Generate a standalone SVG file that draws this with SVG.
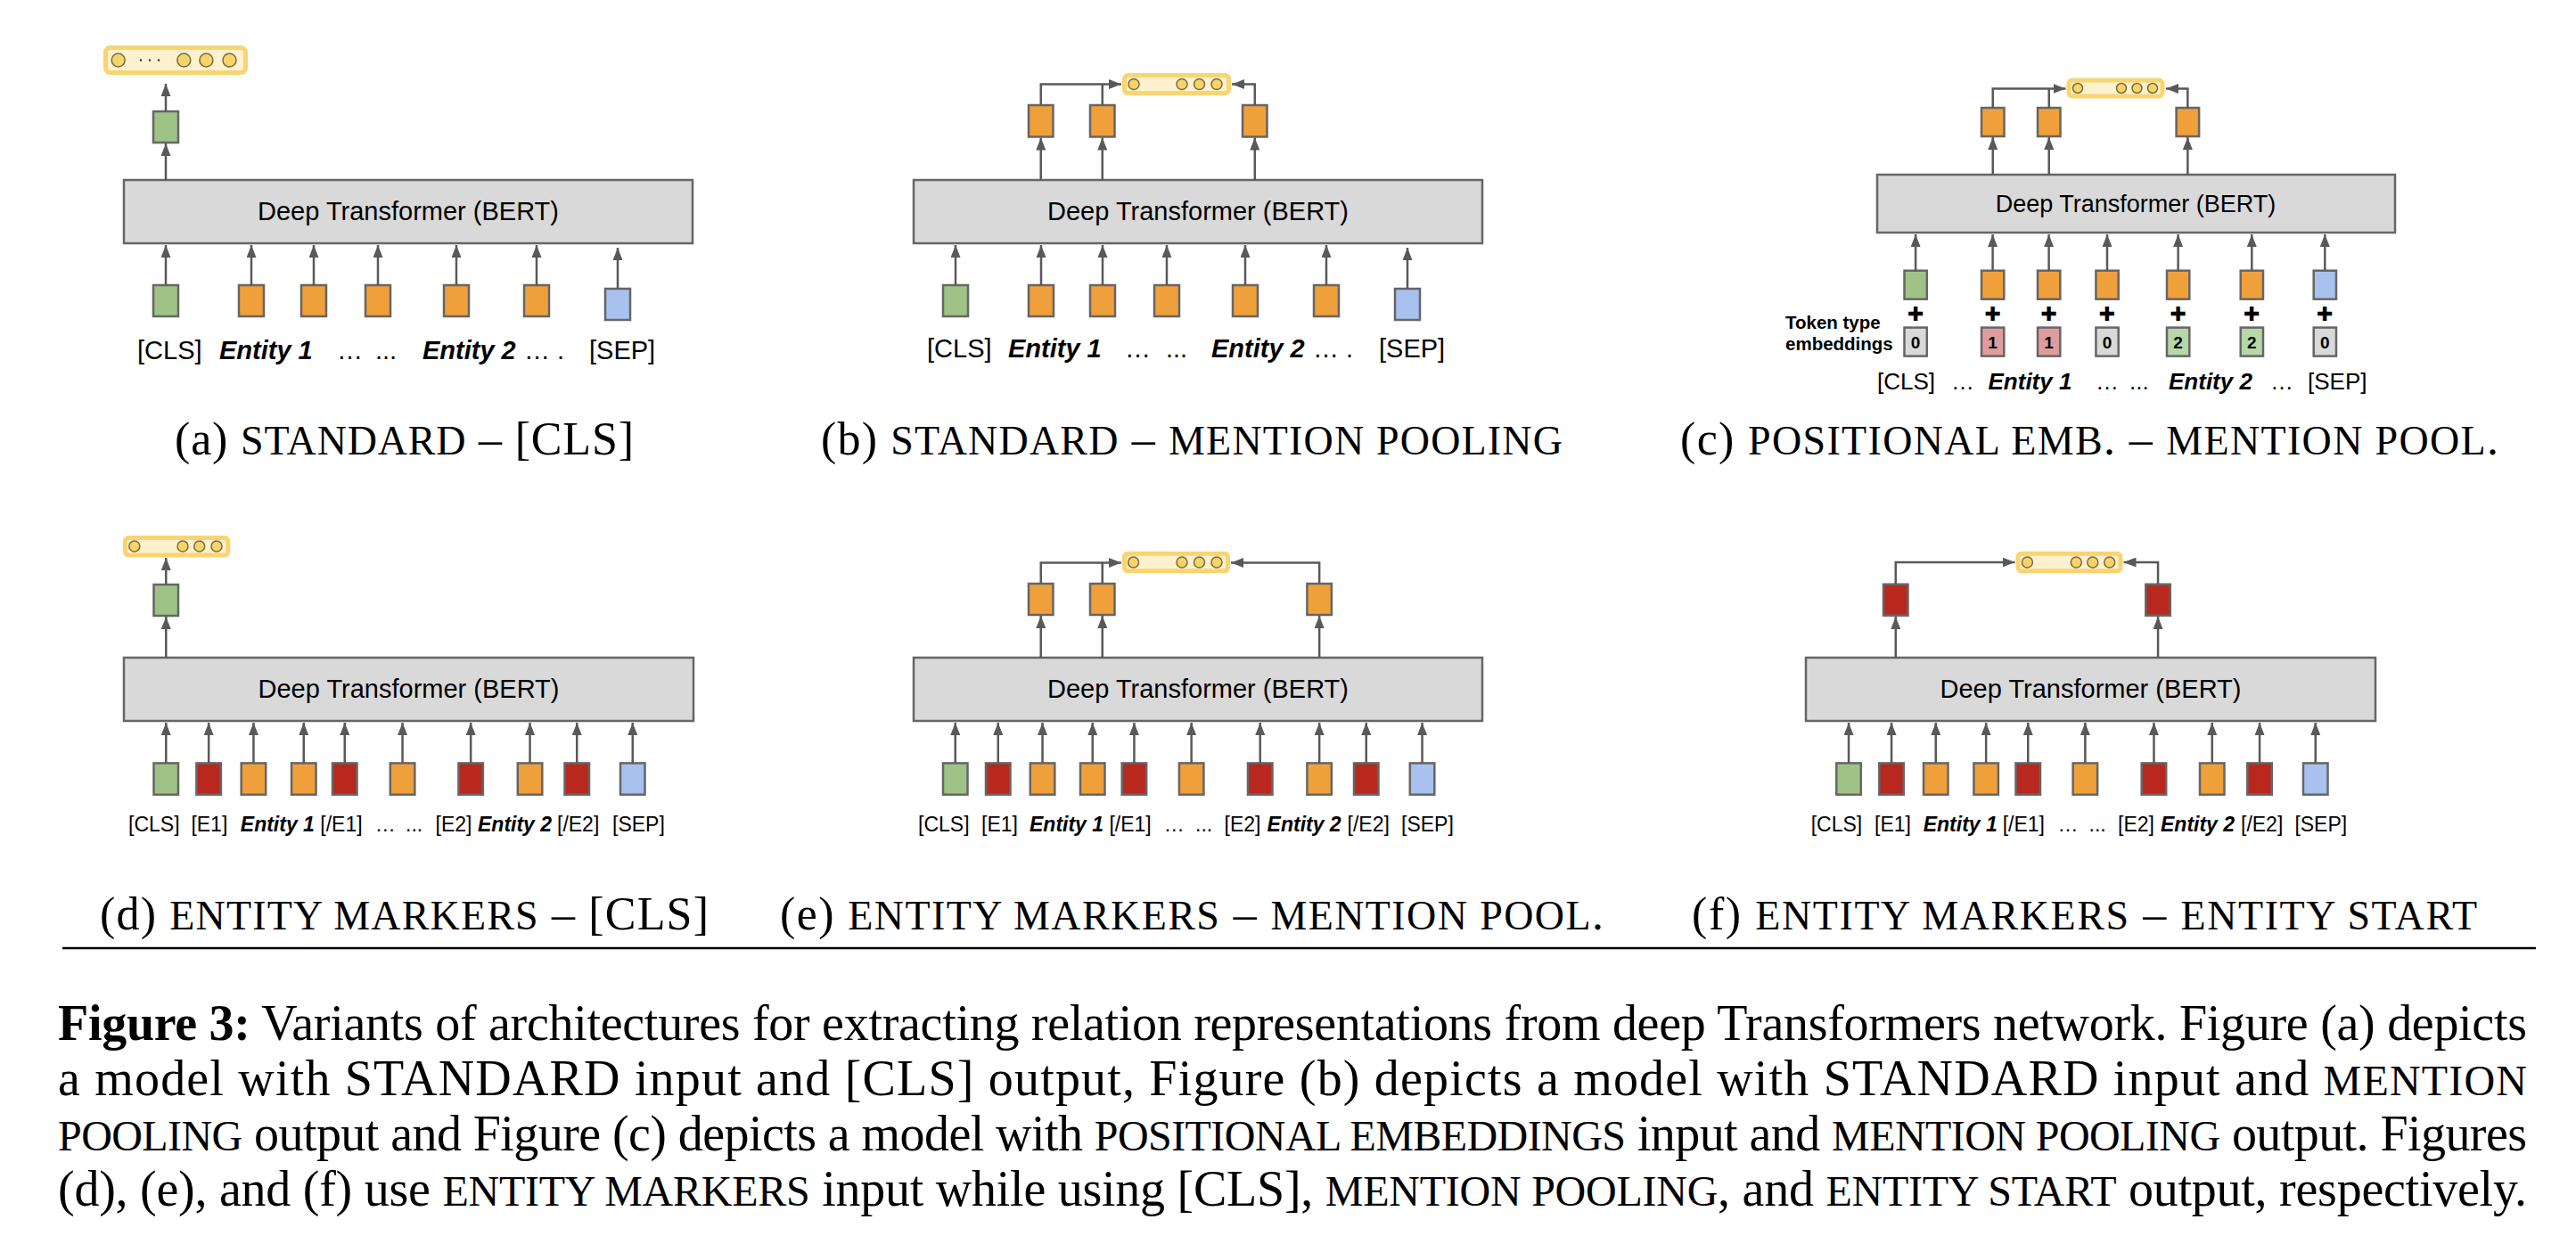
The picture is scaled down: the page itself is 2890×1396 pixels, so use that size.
<svg xmlns="http://www.w3.org/2000/svg" width="2890" height="1396" viewBox="0 0 2890 1396">
<defs>
<marker id="ah" viewBox="0 0 14 11" refX="14" refY="5.5" markerWidth="14" markerHeight="11" markerUnits="userSpaceOnUse" orient="auto"><path d="M0,0 L14,5.5 L0,11 z" fill="#595959"/></marker>
<style>
.bert{fill:#d9d9d9;stroke:#666;stroke-width:2.5}
.bx{stroke:#666;stroke-width:2.5}
.g{fill:#9fc386}.o{fill:#f0a03a}.r{fill:#b8281e}.b{fill:#a9c1ee}
.tg{fill:#d9d9d9}.tp{fill:#e09c9c}.tgr{fill:#b6d7a8}
.arr{stroke:#595959;stroke-width:2.5;fill:none;marker-end:url(#ah)}
.ln{stroke:#595959;stroke-width:2.5;fill:none}
.vr{fill:#fdf1cf;stroke:#f8d571;stroke-width:5}
.vc{fill:#f7d46a;stroke:#7a6b3c;stroke-width:1.5}
.sans{font-family:"Liberation Sans",Arial,sans-serif;fill:#000}
.ent{font-weight:bold;font-style:italic}
.serif{font-family:"Liberation Serif","Times New Roman",serif;fill:#000}
.plus{font-family:"DejaVu Sans",sans-serif;font-size:22px;text-anchor:middle}
.dig{font-family:"Liberation Sans",Arial,sans-serif;font-weight:bold;font-size:19px;text-anchor:middle}
</style>
</defs>
<rect width="2890" height="1396" fill="#fff"/>

<!-- ===== Panel (a) ===== -->
<g id="panel-a">
<g id="a-vec"><rect class="vr" x="118.5" y="53.5" width="157" height="28" rx="5"/>
<circle class="vc" cx="132.7" cy="67.5" r="7.5"/><circle cx="158" cy="67.5" r="1.2" fill="#333"/><circle cx="168" cy="67.5" r="1.2" fill="#333"/><circle cx="178" cy="67.5" r="1.2" fill="#333"/>
<circle class="vc" cx="206.3" cy="67.5" r="7.5"/><circle class="vc" cx="231.4" cy="67.5" r="7.5"/><circle class="vc" cx="257.5" cy="67.5" r="7.5"/></g>
<g id="a-out"><rect class="bx g" x="172" y="125" width="28" height="35"/></g>
<g id="a-bert"><rect class="bert" x="139" y="202" width="638" height="71"/><text class="sans" x="458" y="247" font-size="29" text-anchor="middle">Deep Transformer (BERT)</text></g>
<g id="a-in1"><rect class="bx g" x="172" y="320" width="28" height="35"/></g>
<g id="a-in2"><rect class="bx o" x="268" y="320" width="28" height="35"/></g>
<g id="a-in3"><rect class="bx o" x="338" y="320" width="28" height="35"/></g>
<g id="a-in4"><rect class="bx o" x="410" y="320" width="28" height="35"/></g>
<g id="a-in5"><rect class="bx o" x="498" y="320" width="28" height="35"/></g>
<g id="a-in6"><rect class="bx o" x="588" y="320" width="28" height="35"/></g>
<g id="a-in7"><rect class="bx b" x="679" y="324" width="28" height="35"/></g>
<g id="a-labels" class="sans" font-size="29">
<text x="154" y="403">[CLS]</text><text x="246" y="403" class="ent">Entity 1</text><text x="378" y="403">…</text><text x="421" y="403">...</text>
<text x="474" y="403" class="ent">Entity 2</text><text x="588" y="403">… .</text><text x="661" y="403">[SEP]</text></g>
<text id="a-caption" class="serif" x="196" y="510" font-size="52" textLength="515" lengthAdjust="spacing">(a) <tspan font-size="46">STANDARD</tspan> – [CLS]</text>
</g>
<g id="a-connectors">
<path class="arr" d="M186,125 V94"/><path class="arr" d="M186,202 V161"/>
<path class="arr" d="M186,320 V275"/><path class="arr" d="M282,320 V275"/><path class="arr" d="M352,320 V275"/><path class="arr" d="M424,320 V275"/><path class="arr" d="M512,320 V275"/><path class="arr" d="M602,320 V275"/><path class="arr" d="M693,324 V278"/>
</g>

<!-- ===== Panel (b) ===== -->
<g id="panel-b">
<g id="b-vec"><rect class="vr" x="1261.5" y="84.5" width="117" height="20" rx="4"/>
<circle class="vc" cx="1272" cy="94.5" r="6"/><circle class="vc" cx="1326" cy="94.5" r="6"/><circle class="vc" cx="1345.5" cy="94.5" r="6"/><circle class="vc" cx="1365" cy="94.5" r="6"/></g>
<g id="b-out1"><rect class="bx o" x="1154" y="118" width="27.5" height="35.5"/></g>
<g id="b-out2"><rect class="bx o" x="1223" y="118" width="27.5" height="35.5"/></g>
<g id="b-out3"><rect class="bx o" x="1394" y="118" width="27.5" height="35.5"/></g>
<g id="b-bert"><rect class="bert" x="1025" y="202" width="638" height="71"/><text class="sans" x="1344" y="247" font-size="29" text-anchor="middle">Deep Transformer (BERT)</text></g>
<g id="b-in1"><rect class="bx g" x="1058" y="320" width="28" height="35"/></g>
<g id="b-in2"><rect class="bx o" x="1154" y="320" width="28" height="35"/></g>
<g id="b-in3"><rect class="bx o" x="1223" y="320" width="28" height="35"/></g>
<g id="b-in4"><rect class="bx o" x="1295" y="320" width="28" height="35"/></g>
<g id="b-in5"><rect class="bx o" x="1383" y="320" width="28" height="35"/></g>
<g id="b-in6"><rect class="bx o" x="1474" y="320" width="28" height="35"/></g>
<g id="b-in7"><rect class="bx b" x="1565" y="324" width="28" height="35"/></g>
<g id="b-labels" class="sans" font-size="29">
<text x="1040" y="401">[CLS]</text><text x="1131" y="401" class="ent">Entity 1</text><text x="1262" y="401">…</text><text x="1308" y="401">...</text>
<text x="1359" y="401" class="ent">Entity 2</text><text x="1473" y="401">… .</text><text x="1547" y="401">[SEP]</text></g>
<text id="b-caption" class="serif" x="921" y="510" font-size="52" textLength="832" lengthAdjust="spacing">(b) <tspan font-size="46">STANDARD</tspan> – <tspan font-size="46">MENTION POOLING</tspan></text>
</g>
<g id="b-connectors">
<path class="arr" d="M1167.75,118 V94.5 H1258"/><path class="ln" d="M1236.75,118 V94.5"/><path class="arr" d="M1407.75,118 V94.5 H1382"/>
<path class="arr" d="M1167.75,202 V154.5"/><path class="arr" d="M1236.75,202 V154.5"/><path class="arr" d="M1407.75,202 V154.5"/>
<path class="arr" d="M1072,320 V275"/><path class="arr" d="M1168,320 V275"/><path class="arr" d="M1237,320 V275"/><path class="arr" d="M1309,320 V275"/><path class="arr" d="M1397,320 V275"/><path class="arr" d="M1488,320 V275"/><path class="arr" d="M1579,324 V278"/>
</g>

<!-- ===== Panel (c) ===== -->
<g id="panel-c">
<g id="c-vec"><rect class="vr" x="2321" y="90" width="105" height="18" rx="4"/>
<circle class="vc" cx="2331" cy="99" r="5.5"/><circle class="vc" cx="2380" cy="99" r="5.5"/><circle class="vc" cx="2397.5" cy="99" r="5.5"/><circle class="vc" cx="2415" cy="99" r="5.5"/></g>
<g id="c-out1"><rect class="bx o" x="2223" y="121" width="25.5" height="32"/></g>
<g id="c-out2"><rect class="bx o" x="2286" y="121" width="25.5" height="32"/></g>
<g id="c-out3"><rect class="bx o" x="2441.6" y="121" width="25.5" height="32"/></g>
<g id="c-bert"><rect class="bert" x="2106" y="196" width="581" height="65"/><text class="sans" x="2396" y="238" font-size="27" text-anchor="middle">Deep Transformer (BERT)</text></g>
<g id="c-in1"><rect class="bx g" x="2136.5" y="303.7" width="25.3" height="32"/><text class="plus" x="2149.1" y="360">✚</text><rect class="bx tg" x="2136.5" y="367.6" width="25.3" height="32"/><text class="dig" x="2149.1" y="391">0</text></g>
<g id="c-in2"><rect class="bx o" x="2223" y="303.7" width="25.3" height="32"/><text class="plus" x="2235.6" y="360">✚</text><rect class="bx tp" x="2223" y="367.6" width="25.3" height="32"/><text class="dig" x="2235.6" y="391">1</text></g>
<g id="c-in3"><rect class="bx o" x="2286" y="303.7" width="25.3" height="32"/><text class="plus" x="2298.6" y="360">✚</text><rect class="bx tp" x="2286" y="367.6" width="25.3" height="32"/><text class="dig" x="2298.6" y="391">1</text></g>
<g id="c-in4"><rect class="bx o" x="2351.4" y="303.7" width="25.3" height="32"/><text class="plus" x="2364" y="360">✚</text><rect class="bx tg" x="2351.4" y="367.6" width="25.3" height="32"/><text class="dig" x="2364" y="391">0</text></g>
<g id="c-in5"><rect class="bx o" x="2431" y="303.7" width="25.3" height="32"/><text class="plus" x="2443.6" y="360">✚</text><rect class="bx tgr" x="2431" y="367.6" width="25.3" height="32"/><text class="dig" x="2443.6" y="391">2</text></g>
<g id="c-in6"><rect class="bx o" x="2513.7" y="303.7" width="25.3" height="32"/><text class="plus" x="2526.3" y="360">✚</text><rect class="bx tgr" x="2513.7" y="367.6" width="25.3" height="32"/><text class="dig" x="2526.3" y="391">2</text></g>
<g id="c-in7"><rect class="bx b" x="2595.7" y="303.7" width="25.3" height="32"/><text class="plus" x="2608.3" y="360">✚</text><rect class="bx tg" x="2595.7" y="367.6" width="25.3" height="32"/><text class="dig" x="2608.3" y="391">0</text></g>
<g id="c-tt" class="sans" font-size="20.5" font-weight="bold"><text x="2003" y="369">Token type</text><text x="2003" y="393">embeddings</text></g>
<g id="c-labels" class="sans" font-size="26">
<text x="2106" y="436.5">[CLS]</text><text x="2189" y="436.5">…</text><text x="2230.5" y="436.5" class="ent">Entity 1</text><text x="2351" y="436.5">…</text><text x="2389" y="436.5">...</text>
<text x="2433" y="436.5" class="ent">Entity 2</text><text x="2547" y="436.5">…</text><text x="2589" y="436.5">[SEP]</text></g>
<text id="c-caption" class="serif" x="1885" y="510" font-size="52" textLength="918" lengthAdjust="spacing">(c) <tspan font-size="46">POSITIONAL EMB</tspan>. – <tspan font-size="46">MENTION POOL</tspan>.</text>
</g>
<g id="c-connectors">
<path class="arr" d="M2235.75,121 V99.5 H2317.5"/><path class="ln" d="M2298.75,121 V99.5"/><path class="arr" d="M2454.35,121 V99.5 H2430"/>
<path class="arr" d="M2235.75,196 V154"/><path class="arr" d="M2298.75,196 V154"/><path class="arr" d="M2454.35,196 V154"/>
<path class="arr" d="M2149.1,303.7 V263"/><path class="arr" d="M2235.6,303.7 V263"/><path class="arr" d="M2298.6,303.7 V263"/><path class="arr" d="M2364,303.7 V263"/><path class="arr" d="M2443.6,303.7 V263"/><path class="arr" d="M2526.3,303.7 V263"/><path class="arr" d="M2608.3,303.7 V263"/>
</g>

<!-- ===== Panel (d) ===== -->
<g id="panel-d">
<g id="d-vec"><rect class="vr" x="140.3" y="603.5" width="115.5" height="19.5" rx="4"/>
<circle class="vc" cx="150.8" cy="613" r="6"/><circle class="vc" cx="205" cy="613" r="6"/><circle class="vc" cx="223.7" cy="613" r="6"/><circle class="vc" cx="243" cy="613" r="6"/></g>
<g id="d-out"><rect class="bx g" x="172.5" y="656" width="27.5" height="35"/></g>
<g id="d-bert"><rect class="bert" x="139" y="738" width="639" height="71"/><text class="sans" x="458.5" y="783" font-size="29" text-anchor="middle">Deep Transformer (BERT)</text></g>
<g id="d-in1"><rect class="bx g" x="172.5" y="856.4" width="27.5" height="35.3"/></g>
<g id="d-in2"><rect class="bx r" x="220.4" y="856.4" width="27.5" height="35.3"/></g>
<g id="d-in3"><rect class="bx o" x="270.7" y="856.4" width="27.5" height="35.3"/></g>
<g id="d-in4"><rect class="bx o" x="327" y="856.4" width="27.5" height="35.3"/></g>
<g id="d-in5"><rect class="bx r" x="373" y="856.4" width="27.5" height="35.3"/></g>
<g id="d-in6"><rect class="bx o" x="437.8" y="856.4" width="27.5" height="35.3"/></g>
<g id="d-in7"><rect class="bx r" x="514.4" y="856.4" width="27.5" height="35.3"/></g>
<g id="d-in8"><rect class="bx o" x="580.8" y="856.4" width="27.5" height="35.3"/></g>
<g id="d-in9"><rect class="bx r" x="633.5" y="856.4" width="27.5" height="35.3"/></g>
<g id="d-in10"><rect class="bx b" x="696" y="856.4" width="27.5" height="35.3"/></g>
<g id="d-labels" class="sans" font-size="23">
<text x="144" y="933">[CLS]</text><text x="214.4" y="933">[E1]</text><text x="269.8" y="933" class="ent">Entity 1</text><text x="359.3" y="933">[/E1]</text><text x="420.7" y="933">…</text><text x="455" y="933">...</text>
<text x="488.6" y="933">[E2]</text><text x="536" y="933" class="ent">Entity 2</text><text x="625" y="933">[/E2]</text><text x="687" y="933">[SEP]</text></g>
<text id="d-caption" class="serif" x="112" y="1043" font-size="52" textLength="683" lengthAdjust="spacing">(d) <tspan font-size="46">ENTITY MARKERS</tspan> – [CLS]</text>
</g>
<g id="d-connectors">
<path class="arr" d="M186.25,656 V626"/><path class="arr" d="M186.25,738 V692"/>
<path class="arr" d="M186.25,856.4 V811"/><path class="arr" d="M234.15,856.4 V811"/><path class="arr" d="M284.45,856.4 V811"/><path class="arr" d="M340.75,856.4 V811"/><path class="arr" d="M386.75,856.4 V811"/><path class="arr" d="M451.55,856.4 V811"/><path class="arr" d="M528.15,856.4 V811"/><path class="arr" d="M594.55,856.4 V811"/><path class="arr" d="M647.25,856.4 V811"/><path class="arr" d="M709.75,856.4 V811"/>
</g>

<!-- ===== Panel (e) ===== -->
<g id="panel-e">
<g id="e-vec"><rect class="vr" x="1261.5" y="621.2" width="116" height="19.6" rx="4"/>
<circle class="vc" cx="1271.6" cy="631" r="6"/><circle class="vc" cx="1326" cy="631" r="6"/><circle class="vc" cx="1345.5" cy="631" r="6"/><circle class="vc" cx="1365" cy="631" r="6"/></g>
<g id="e-out1"><rect class="bx o" x="1154" y="655" width="27.5" height="35"/></g>
<g id="e-out2"><rect class="bx o" x="1223" y="655" width="27.5" height="35"/></g>
<g id="e-out3"><rect class="bx o" x="1466.4" y="655" width="27.5" height="35"/></g>
<g id="e-bert"><rect class="bert" x="1025" y="738" width="638" height="71"/><text class="sans" x="1344" y="783" font-size="29" text-anchor="middle">Deep Transformer (BERT)</text></g>
<g id="e-in1"><rect class="bx g" x="1058" y="856.4" width="27.5" height="35.3"/></g>
<g id="e-in2"><rect class="bx r" x="1106" y="856.4" width="27.5" height="35.3"/></g>
<g id="e-in3"><rect class="bx o" x="1155.8" y="856.4" width="27.5" height="35.3"/></g>
<g id="e-in4"><rect class="bx o" x="1212" y="856.4" width="27.5" height="35.3"/></g>
<g id="e-in5"><rect class="bx r" x="1258.7" y="856.4" width="27.5" height="35.3"/></g>
<g id="e-in6"><rect class="bx o" x="1322.9" y="856.4" width="27.5" height="35.3"/></g>
<g id="e-in7"><rect class="bx r" x="1400" y="856.4" width="27.5" height="35.3"/></g>
<g id="e-in8"><rect class="bx o" x="1466.4" y="856.4" width="27.5" height="35.3"/></g>
<g id="e-in9"><rect class="bx r" x="1519" y="856.4" width="27.5" height="35.3"/></g>
<g id="e-in10"><rect class="bx b" x="1581.8" y="856.4" width="27.5" height="35.3"/></g>
<g id="e-labels" class="sans" font-size="23">
<text x="1030" y="933">[CLS]</text><text x="1101" y="933">[E1]</text><text x="1155" y="933" class="ent">Entity 1</text><text x="1244.4" y="933">[/E1]</text><text x="1305.8" y="933">…</text><text x="1341" y="933">...</text>
<text x="1373.6" y="933">[E2]</text><text x="1421.6" y="933" class="ent">Entity 2</text><text x="1511.6" y="933">[/E2]</text><text x="1572" y="933">[SEP]</text></g>
<text id="e-caption" class="serif" x="875" y="1043" font-size="52" textLength="924" lengthAdjust="spacing">(e) <tspan font-size="46">ENTITY MARKERS</tspan> – <tspan font-size="46">MENTION POOL</tspan>.</text>
</g>
<g id="e-connectors">
<path class="arr" d="M1167.75,655 V631.5 H1258"/><path class="ln" d="M1236.75,655 V631.5"/><path class="arr" d="M1480.15,655 V631.5 H1381"/>
<path class="arr" d="M1167.75,738 V691"/><path class="arr" d="M1236.75,738 V691"/><path class="arr" d="M1480.15,738 V691"/>
<path class="arr" d="M1071.75,856.4 V811"/><path class="arr" d="M1119.75,856.4 V811"/><path class="arr" d="M1169.55,856.4 V811"/><path class="arr" d="M1225.75,856.4 V811"/><path class="arr" d="M1272.45,856.4 V811"/><path class="arr" d="M1336.65,856.4 V811"/><path class="arr" d="M1413.75,856.4 V811"/><path class="arr" d="M1480.15,856.4 V811"/><path class="arr" d="M1532.75,856.4 V811"/><path class="arr" d="M1595.55,856.4 V811"/>
</g>

<!-- ===== Panel (f) ===== -->
<g id="panel-f">
<g id="f-vec"><rect class="vr" x="2264" y="621.2" width="115" height="19.6" rx="4"/>
<circle class="vc" cx="2274.4" cy="631" r="6"/><circle class="vc" cx="2329.3" cy="631" r="6"/><circle class="vc" cx="2347.8" cy="631" r="6"/><circle class="vc" cx="2366.7" cy="631" r="6"/></g>
<g id="f-out1"><rect class="bx r" x="2113" y="655.7" width="27.5" height="35"/></g>
<g id="f-out2"><rect class="bx r" x="2407.3" y="655.7" width="27.5" height="35"/></g>
<g id="f-bert"><rect class="bert" x="2026" y="738" width="639" height="71"/><text class="sans" x="2345.5" y="783" font-size="29" text-anchor="middle">Deep Transformer (BERT)</text></g>
<g id="f-in1"><rect class="bx g" x="2060.3" y="856.4" width="27.5" height="35.3"/></g>
<g id="f-in2"><rect class="bx r" x="2108.3" y="856.4" width="27.5" height="35.3"/></g>
<g id="f-in3"><rect class="bx o" x="2158" y="856.4" width="27.5" height="35.3"/></g>
<g id="f-in4"><rect class="bx o" x="2214.4" y="856.4" width="27.5" height="35.3"/></g>
<g id="f-in5"><rect class="bx r" x="2261.5" y="856.4" width="27.5" height="35.3"/></g>
<g id="f-in6"><rect class="bx o" x="2325.6" y="856.4" width="27.5" height="35.3"/></g>
<g id="f-in7"><rect class="bx r" x="2402.7" y="856.4" width="27.5" height="35.3"/></g>
<g id="f-in8"><rect class="bx o" x="2468" y="856.4" width="27.5" height="35.3"/></g>
<g id="f-in9"><rect class="bx r" x="2521.3" y="856.4" width="27.5" height="35.3"/></g>
<g id="f-in10"><rect class="bx b" x="2584" y="856.4" width="27.5" height="35.3"/></g>
<g id="f-labels" class="sans" font-size="23">
<text x="2031.7" y="933">[CLS]</text><text x="2103" y="933">[E1]</text><text x="2157.7" y="933" class="ent">Entity 1</text><text x="2246.7" y="933">[/E1]</text><text x="2308.6" y="933">…</text><text x="2343.6" y="933">...</text>
<text x="2376" y="933">[E2]</text><text x="2424" y="933" class="ent">Entity 2</text><text x="2514" y="933">[/E2]</text><text x="2574.4" y="933">[SEP]</text></g>
<text id="f-caption" class="serif" x="1898" y="1043" font-size="52" textLength="881" lengthAdjust="spacing">(f) <tspan font-size="46">ENTITY MARKERS</tspan> – <tspan font-size="46">ENTITY START</tspan></text>
</g>
<g id="f-connectors">
<path class="arr" d="M2126.75,655.7 V631 H2260.5"/><path class="arr" d="M2421.05,655.7 V631 H2382.5"/>
<path class="arr" d="M2126.75,738 V692"/><path class="arr" d="M2421.05,738 V692"/>
<path class="arr" d="M2074.05,856.4 V811"/><path class="arr" d="M2122.05,856.4 V811"/><path class="arr" d="M2171.75,856.4 V811"/><path class="arr" d="M2228.15,856.4 V811"/><path class="arr" d="M2275.25,856.4 V811"/><path class="arr" d="M2339.35,856.4 V811"/><path class="arr" d="M2416.45,856.4 V811"/><path class="arr" d="M2481.75,856.4 V811"/><path class="arr" d="M2535.05,856.4 V811"/><path class="arr" d="M2597.75,856.4 V811"/>
</g>

<line x1="70" y1="1064" x2="2845" y2="1064" stroke="#000" stroke-width="2.5"/>

<g id="figure-caption" class="serif" font-size="56">
<text x="65" y="1167" textLength="2770" lengthAdjust="spacing"><tspan font-weight="bold">Figure 3:</tspan> Variants of architectures for extracting relation representations from deep Transformers network. Figure (a) depicts</text>
<text x="65" y="1229" textLength="2770" lengthAdjust="spacing">a model with STANDARD input and [CLS] output, Figure (b) depicts a model with STANDARD input and <tspan font-size="48">MENTION</tspan></text>
<text x="65" y="1291" textLength="2770" lengthAdjust="spacing"><tspan font-size="48">POOLING</tspan> output and Figure (c) depicts a model with <tspan font-size="48">POSITIONAL EMBEDDINGS</tspan> input and <tspan font-size="48">MENTION POOLING</tspan> output. Figures</text>
<text x="65" y="1353" textLength="2770" lengthAdjust="spacing">(d), (e), and (f) use <tspan font-size="48">ENTITY MARKERS</tspan> input while using [CLS], <tspan font-size="48">MENTION POOLING</tspan>, and <tspan font-size="48">ENTITY START</tspan> output, respectively.</text>
</g>
</svg>
